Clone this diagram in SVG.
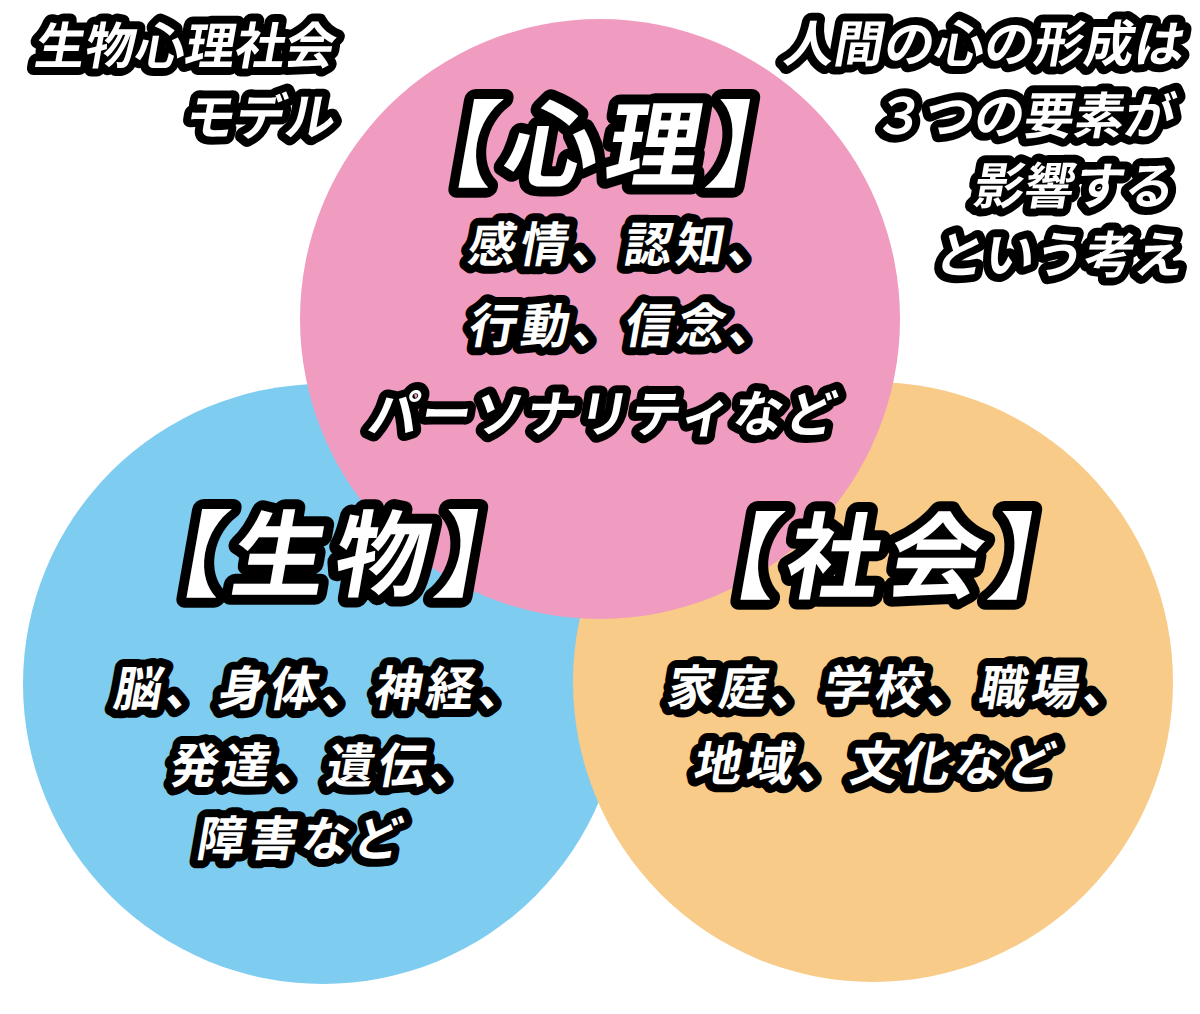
<svg xmlns="http://www.w3.org/2000/svg" width="1200" height="1014" viewBox="0 0 1200 1014">
<style>
.t{font-family:"Noto Sans CJK JP","Noto Sans",sans-serif;font-weight:700;fill:#fff;stroke:#000;stroke-linejoin:round;paint-order:stroke fill}
.s{font-size:48px;stroke-width:16px;letter-spacing:4px}
.m{font-size:50px;stroke-width:16px}
.p{font-size:50px;stroke-width:16px;letter-spacing:2.5px}
.b{font-size:94px;stroke-width:20px;letter-spacing:8px}
</style>
<rect width="1200" height="1014" fill="#fff"/>
<g id="circles">
<circle id="bio" cx="323" cy="684" r="300" fill="#7FCCF1"/>
<circle id="soc" cx="873" cy="682" r="300" fill="#F8CB88"/>
<circle id="psy" cx="600" cy="319" r="300" fill="#F09BC0"/>
</g>
<g id="title">
<text class="t m" transform="translate(333 64) skewX(-10)" text-anchor="end">生物心理社会</text>
<text class="t m" transform="translate(333 135) skewX(-10)" text-anchor="end">モデル</text>
</g>
<g id="note">
<text class="t m" transform="translate(1182 62) skewX(-10)" text-anchor="end">人間の心の形成は</text>
<text class="t m" transform="translate(1172 134) skewX(-10)" text-anchor="end">３つの要素が</text>
<text class="t m" transform="translate(1172 204) skewX(-10)" text-anchor="end">影響する</text>
<text class="t m" transform="translate(1182 273) skewX(-10)" text-anchor="end">という考え</text>
</g>
<g id="node-psy">
<text class="t b" transform="translate(398 179) skewX(-10)">【心理】</text>
<text class="t s" transform="translate(466 262) skewX(-10)">感情、認知、</text>
<text class="t s" transform="translate(467 343) skewX(-10)">行動、信念、</text>
<text class="t p" transform="translate(366 432) skewX(-10)">パーソナリティなど</text>
</g>
<g id="node-bio">
<text class="t b" transform="translate(126 589) skewX(-10)">【生物】</text>
<text class="t s" transform="translate(112 706) skewX(-10)">脳、身体、神経、</text>
<text class="t s" transform="translate(168 783) skewX(-10)">発達、遺伝、</text>
<text class="t s" transform="translate(195 856) skewX(-10)">障害など</text>
</g>
<g id="node-soc">
<text class="t b" transform="translate(680 591) skewX(-10)">【社会】</text>
<text class="t s" transform="translate(665 705) skewX(-10)">家庭、学校、職場、</text>
<text class="t s" transform="translate(692 781) skewX(-10)">地域、文化など</text>
</g>
</svg>
